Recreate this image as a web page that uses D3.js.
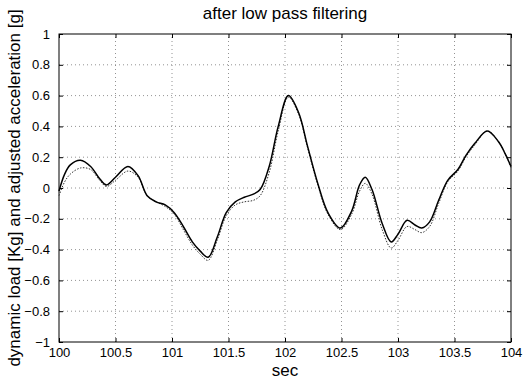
<!DOCTYPE html>
<html>
<head>
<meta charset="utf-8">
<script src="https://cdn.jsdelivr.net/npm/d3@7"></script>
<style>
  body { margin: 0; background: #fff; }
  svg text { font-family: "Liberation Sans", Arial, sans-serif; fill: #000; }
</style>
</head>
<body>
<svg id="chart" width="532" height="380"></svg>
<script>
// time samples (sec)
const time = [100.00, 100.05, 100.10, 100.19, 100.28, 100.36, 100.42, 100.50, 100.61, 100.70,
  100.78, 100.86, 100.94, 101.02, 101.10, 101.18, 101.25, 101.32, 101.40, 101.48,
  101.56, 101.64, 101.72, 101.78, 101.86, 101.94, 102.03, 102.12, 102.20, 102.29,
  102.38, 102.49, 102.59, 102.66, 102.71, 102.77, 102.86, 102.94, 103.00, 103.08,
  103.15, 103.21, 103.28, 103.36, 103.44, 103.53, 103.60, 103.68, 103.79, 103.89,
  103.95, 104.00]
// dynamic load [Kg] - solid
const load = [-0.02, 0.09, 0.15, 0.18, 0.14, 0.06, 0.02, 0.07, 0.14, 0.08,
  -0.05, -0.09, -0.11, -0.16, -0.25, -0.35, -0.41, -0.45, -0.32, -0.16,
  -0.09, -0.06, -0.04, -0.01, 0.14, 0.40, 0.60, 0.49, 0.27, 0.03,
  -0.16, -0.26, -0.15, 0.02, 0.07, -0.01, -0.23, -0.35, -0.30, -0.21,
  -0.24, -0.26, -0.22, -0.08, 0.05, 0.12, 0.21, 0.29, 0.37, 0.30,
  0.22, 0.14]
// adjusted acceleration [g] - dotted
const accel = [-0.05, 0.04, 0.09, 0.13, 0.12, 0.05, 0.01, 0.05, 0.11, 0.07,
  -0.05, -0.09, -0.12, -0.17, -0.27, -0.37, -0.43, -0.47, -0.34, -0.18,
  -0.11, -0.09, -0.08, -0.05, 0.10, 0.37, 0.59, 0.48, 0.26, 0.02,
  -0.17, -0.27, -0.17, -0.02, 0.03, -0.04, -0.27, -0.39, -0.34, -0.25,
  -0.27, -0.29, -0.25, -0.10, 0.04, 0.11, 0.20, 0.28, 0.37, 0.30,
  0.22, 0.13]
const xTicks = [100, 100.5, 101, 101.5, 102, 102.5, 103, 103.5, 104]
const yTicks = [-1, -0.8, -0.6, -0.4, -0.2, 0, 0.2, 0.4, 0.6, 0.8, 1]

const svg = d3.select("#chart")
const m = {left: 59, right: 21, top: 34, bottom: 38}
const W = 532, H = 380
const x = d3.scaleLinear().domain([100, 104]).range([m.left, W - m.right])
const y = d3.scaleLinear().domain([-1, 1]).range([H - m.bottom, m.top])

//grid
svg.append("g").selectAll("line").data(xTicks.slice(1, -1)).enter().append("line")
  .attr("x1", d => x(d)).attr("x2", d => x(d))
  .attr("y1", y(-1)).attr("y2", y(1))
  .attr("stroke", "#777").attr("stroke-width", 0.8).attr("stroke-dasharray", "1,3")
svg.append("g").selectAll("line").data(yTicks.slice(1, -1)).enter().append("line")
  .attr("y1", d => y(d)).attr("y2", d => y(d))
  .attr("x1", x(100)).attr("x2", x(104))
  .attr("stroke", "#777").attr("stroke-width", 0.8).attr("stroke-dasharray", "1,3")

//box
svg.append("rect").attr("x", x(100)).attr("y", y(1))
  .attr("width", x(104) - x(100)).attr("height", y(-1) - y(1))
  .attr("fill", "none").attr("stroke", "#000").attr("stroke-width", 1)

//axes with inward ticks
const fmt = d => d3.format("")(d)
let ax = svg.append("g").attr("transform", `translate(0,${y(-1)})`)
  .call(d3.axisBottom(x).tickValues(xTicks).tickFormat(fmt).tickSizeInner(-4).tickSizeOuter(0).tickPadding(6))
ax.select(".domain").remove()
ax.selectAll("text").attr("font-size", 13)
let axTop = svg.append("g").attr("transform", `translate(0,${y(1)})`)
  .call(d3.axisTop(x).tickValues(xTicks).tickFormat("").tickSizeInner(-4).tickSizeOuter(0))
axTop.select(".domain").remove()
let ay = svg.append("g").attr("transform", `translate(${x(100)},0)`)
  .call(d3.axisLeft(y).tickValues(yTicks).tickFormat(fmt).tickSizeInner(-4).tickSizeOuter(0).tickPadding(9))
ay.select(".domain").remove()
ay.selectAll("text").attr("font-size", 13)
let ayR = svg.append("g").attr("transform", `translate(${x(104)},0)`)
  .call(d3.axisRight(y).tickValues(yTicks).tickFormat("").tickSizeInner(-4).tickSizeOuter(0))
ayR.select(".domain").remove()

//curves
const pts = s => time.map((t, i) => [t, s[i]])
const line = d3.line().x(d => x(d[0])).y(d => y(d[1])).curve(d3.curveCatmullRom)
svg.append("path").attr("d", line(pts(accel)))
  .attr("fill", "none").attr("stroke", "#333").attr("stroke-width", 1).attr("stroke-dasharray", "1.5,1.5")
svg.append("path").attr("d", line(pts(load)))
  .attr("fill", "none").attr("stroke", "#000").attr("stroke-width", 1.5)

//labels
svg.append("text").attr("x", (x(100) + x(104)) / 2).attr("y", 19)
  .attr("text-anchor", "middle").attr("font-size", 17).text("after low pass filtering")
svg.append("text").attr("x", (x(100) + x(104)) / 2).attr("y", 376)
  .attr("text-anchor", "middle").attr("font-size", 17).text("sec")
svg.append("text").attr("transform", `translate(20,${(y(1) + y(-1)) / 2}) rotate(-90)`)
  .attr("text-anchor", "middle").attr("font-size", 17)
  .text("dynamic load [Kg] and adjusted acceleration [g]")
</script>
</body>
</html>
